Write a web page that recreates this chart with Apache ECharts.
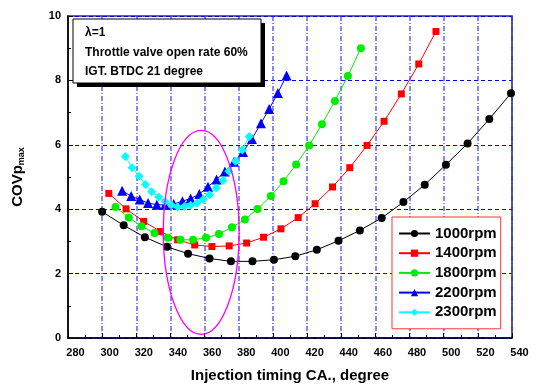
<!DOCTYPE html>
<html><head><meta charset="utf-8">
<script src="https://cdn.jsdelivr.net/npm/echarts@6/dist/echarts.min.js"></script>
<style>html,body{margin:0;padding:0;background:#fff}#c{width:537px;height:388px}</style>
</head><body><div id="c"></div>
<script>
// ---- data ----
const xTicks = [280,300,320,340,360,380,400,420,440,460,480,500,520,540];
const yTicks = [0,2,4,6,8,10];
const seriesNames = ['1000rpm','1400rpm','1800rpm','2200rpm','2300rpm'];

const x1000 = [300,312.6,325,338,350.3,362.9,375.4,388,400.6,413.1,425.7,438.4,450.9,463.7,476.4,488.9,501.3,514,526.7,539.4];
const y1000 = [3.92,3.50,3.13,2.83,2.62,2.47,2.38,2.38,2.43,2.54,2.74,3.02,3.34,3.73,4.22,4.76,5.38,6.04,6.80,7.60];

const x1400 = [303.9,314,324.3,334.1,344.2,354.2,364.3,374.4,384.6,394.5,404.7,414.8,424.7,434.9,445,455.1,465.1,475.2,485.4,495.5];
const y1400 = [4.49,4.01,3.62,3.31,3.05,2.89,2.84,2.86,2.95,3.13,3.39,3.74,4.17,4.69,5.29,5.98,6.73,7.58,8.51,9.52];

const x1800 = [307.8,315.6,323,330.6,338.4,345.8,353.2,360.8,368.4,376,383.6,391,398.8,406.2,413.6,421.2,428.7,436.3,443.9,451.5];
const y1800 = [4.07,3.74,3.47,3.26,3.11,3.05,3.05,3.11,3.23,3.44,3.68,4.01,4.41,4.87,5.39,5.98,6.64,7.36,8.14,9.00];

const x2200 = [311.7,317,322,326.9,332,336.8,341.9,347,351.8,356.9,362,367,371.9,377.2,382.5,387.7,393,397.8,402.9,408];
const y2200 = [4.57,4.41,4.30,4.19,4.14,4.13,4.16,4.25,4.33,4.47,4.70,4.92,5.17,5.47,5.78,6.18,6.67,7.11,7.61,8.15];

const x2300 = [313.6,317.5,321.6,325.3,329,333.1,336.8,340.5,344.2,348.1,351.8,355.6,359.2,362.9,366.8,370.8,374.2,378.1,382,386.1];
const y2300 = [5.64,5.29,5.02,4.77,4.54,4.38,4.24,4.13,4.07,4.08,4.12,4.19,4.31,4.45,4.66,4.89,5.18,5.49,5.84,6.26];

const noteLines = ['λ=1','Throttle valve open rate 60%','IGT. BTDC 21 degree'];
// ellipse annotation in data units: centre x, centre y, radius x, radius y
const ellipseData = {cx:358, cy:3.28, rx:22.2, ry:3.17};

// ---- chart ----
const FONT = '"Liberation Sans", Arial, sans-serif';
const pairs = (xs, ys) => xs.map((v,i)=>[v, ys[i]]);
const xsAll = [x1000,x1400,x1800,x2200,x2300];
const ysAll = [y1000,y1400,y1800,y2200,y2300];
const colors = ['#000000','#ff0000','#00ee00','#0000ff','#00ffff'];
const symbols = ['circle','rect','circle','triangle','diamond'];
const sizes = [8,7,8,10,9];

const chart = echarts.init(document.getElementById('c'), null, {renderer:'canvas'});

const series = seriesNames.map((n,i)=>({
  name:n, type:'line', data:pairs(xsAll[i], ysAll[i]),
  symbol:symbols[i], symbolSize:sizes[i], showSymbol:true,
  lineStyle:{color:colors[i], width:1},
  itemStyle:{color:colors[i], borderWidth:0},
  emphasis:{disabled:true}, animation:false, z:3
}));

const noteGraphics = [
  {type:'rect', id:'shadow', shape:{x:77,y:23,width:188,height:64}, style:{fill:'#000'}, z:10},
  {type:'rect', id:'box', shape:{x:73,y:19,width:188,height:64}, style:{fill:'#fff', stroke:'#000', lineWidth:1}, z:11},
].concat(noteLines.map((t,i)=>({
  type:'text', id:'note'+i, x:85, y:33+i*19.5, z:12,
  style:{text:t, font:'bold 12px '+FONT, fill:'#000', textVerticalAlign:'middle', verticalAlign:'middle'}
})));

chart.setOption({
  backgroundColor:'#fff',
  animation:false,
  grid:{left:68, right:25, top:16, bottom:47, show:true, borderColor:'#333', borderWidth:1.5, backgroundColor:'transparent'},
  xAxis:{
    type:'value', min:280, max:540, interval:20,
    axisLine:{show:true, onZero:false, lineStyle:{color:'#000', width:1.5}},
    axisTick:{show:true, inside:true, length:5, lineStyle:{color:'#000'}},
    minorTick:{show:true, splitNumber:2, length:3, lineStyle:{color:'#000'}},
    axisLabel:{fontFamily:FONT, fontWeight:'bold', fontSize:11, color:'#000', margin:9, padding:[0,0,0,15],
      formatter:v=>xTicks.includes(v)?String(v):''},
    splitLine:{show:true, lineStyle:{color:'rgba(40,40,255,0.75)', width:1.5, type:[5,2,1,2]}},
    name:'Injection timing CA., degree', nameLocation:'middle', nameGap:30,
    nameTextStyle:{fontFamily:FONT, fontWeight:'bold', fontSize:15, color:'#000'}
  },
  yAxis:{
    type:'value', min:0, max:10, interval:2,
    axisLine:{show:true, onZero:false, lineStyle:{color:'#000', width:1.5}},
    axisTick:{show:true, inside:true, length:5, lineStyle:{color:'#000'}},
    minorTick:{show:true, splitNumber:2, length:3, lineStyle:{color:'#000'}},
    axisLabel:{fontFamily:FONT, fontWeight:'bold', fontSize:11, color:'#000', margin:7,
      formatter:v=>yTicks.includes(v)?String(v):''},
    splitLine:{show:true, lineStyle:{color:'#0000ff', width:1, type:[4,3]}},
    name:'{a|COVp}{b|max}', nameLocation:'middle', nameGap:42,
    nameTextStyle:{fontFamily:FONT, color:'#000',
      rich:{a:{fontFamily:FONT, fontWeight:'bold', fontSize:15, color:'#000'},
            b:{fontFamily:FONT, fontWeight:'bold', fontSize:9, color:'#000', verticalAlign:'bottom', padding:[8,0,0,0]}}}
  },
  legend:{
    data:seriesNames, orient:'vertical', left:392, top:217,
    padding:[9,4,9,6], itemGap:4.7, itemWidth:31, itemHeight:9,
    borderColor:'#ff3333', borderWidth:1, backgroundColor:'#fff',
    textStyle:{fontFamily:FONT, fontWeight:'bold', fontSize:15, color:'#000'},
    selectedMode:false, z:20
  },
  series:series,
  graphic:noteGraphics
});

const c = chart.convertToPixel({gridIndex:0},[ellipseData.cx, ellipseData.cy]);
const e = chart.convertToPixel({gridIndex:0},[ellipseData.cx+ellipseData.rx, ellipseData.cy+ellipseData.ry]);
chart.setOption({graphic:[{type:'ellipse', id:'ell', shape:{cx:c[0], cy:c[1], rx:e[0]-c[0], ry:c[1]-e[1]},
  style:{fill:'none', stroke:'#ff00ff', lineWidth:1.3}, z:9}]});
</script>
</body></html>
